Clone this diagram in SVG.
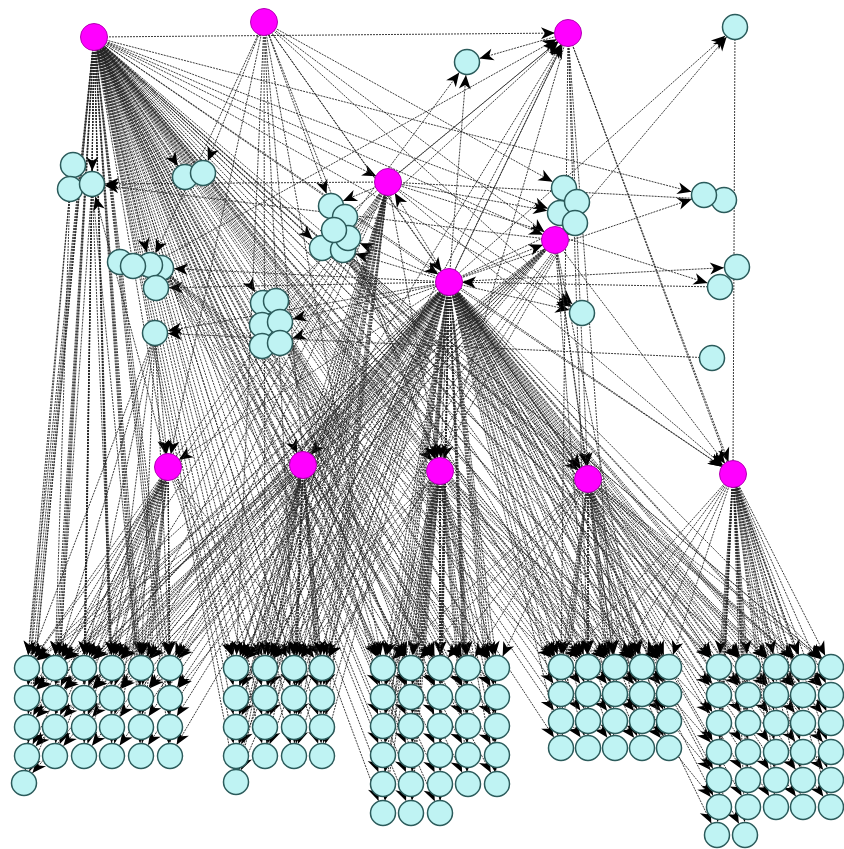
<svg xmlns="http://www.w3.org/2000/svg" width="844" height="849" viewBox="0 0 844 849">
<style>
.e path{fill:none;stroke:#262626;stroke-width:.9;stroke-dasharray:2 1;marker-end:url(#ah)}
.e path.n{marker-end:none}
.c{fill:#bff3f3;stroke:#2b5b5b;stroke-width:1.5}
.m{fill:#ff00ff;stroke:#b400b4;stroke-width:1}
</style>
<defs>
<marker id="ah" markerUnits="userSpaceOnUse" markerWidth="20" markerHeight="20" refX="13" refY="0" orient="auto" overflow="visible">
<path d="M0 0L-14 -6L-10 0L-14 6Z" fill="#000"/>
</marker>
</defs>
<rect width="844" height="849" fill="#fff"/>
<g id="edges" class="e">
<!-- M1 -->
<path d="M94 37L27 668"/><path d="M94 37L55 668"/><path d="M94 37L84 668"/><path d="M94 37L112 668"/><path d="M94 37L141 668"/><path d="M94 37L170 668"/>
<path d="M94 37L27 698"/><path d="M94 37L55 698"/><path d="M94 37L84 698"/><path d="M94 37L112 698"/><path d="M94 37L141 698"/><path d="M94 37L170 698"/>
<path d="M94 37L27 727"/><path d="M94 37L55 727"/><path d="M94 37L84 727"/><path d="M94 37L112 727"/><path d="M94 37L141 727"/><path d="M94 37L170 727"/>
<path d="M94 37L27 756"/><path d="M94 37L55 756"/><path d="M94 37L84 756"/><path d="M94 37L112 756"/><path d="M94 37L141 756"/><path d="M94 37L170 756"/>
<path d="M94 37L24 783"/>
<path d="M94 37L236 668"/><path d="M94 37L265 668"/><path d="M94 37L294 668"/><path d="M94 37L322 668"/>
<path d="M94 37L236 698"/><path d="M94 37L265 698"/><path d="M94 37L294 698"/><path d="M94 37L322 698"/>
<path d="M94 37L236 727"/><path d="M94 37L265 727"/><path d="M94 37L294 727"/><path d="M94 37L322 727"/>
<path d="M94 37L236 756"/><path d="M94 37L265 756"/><path d="M94 37L294 756"/><path d="M94 37L322 756"/><path d="M94 37L236 782"/>
<path d="M94 37L383 668"/><path d="M94 37L411 668"/><path d="M94 37L440 668"/><path d="M94 37L468 668"/><path d="M94 37L497 668"/>
<path d="M94 37L383 697"/><path d="M94 37L411 697"/><path d="M94 37L440 697"/><path d="M94 37L468 697"/><path d="M94 37L497 697"/>
<path d="M94 37L383 726"/><path d="M94 37L411 726"/><path d="M94 37L440 726"/><path d="M94 37L468 726"/><path d="M94 37L497 726"/>
<path d="M94 37L383 755"/><path d="M94 37L411 755"/><path d="M94 37L440 755"/><path d="M94 37L468 755"/><path d="M94 37L497 755"/>
<path d="M94 37L383 784"/><path d="M94 37L411 784"/><path d="M94 37L440 784"/><path d="M94 37L468 784"/><path d="M94 37L497 784"/>
<path d="M94 37L383 813"/><path d="M94 37L411 813"/><path d="M94 37L440 813"/>
<path d="M94 37L561 667"/><path d="M94 37L588 667"/><path d="M94 37L615 667"/><path d="M94 37L642 667"/><path d="M94 37L669 667"/>
<path d="M94 37L561 694"/><path d="M94 37L588 694"/><path d="M94 37L615 694"/><path d="M94 37L642 694"/><path d="M94 37L669 694"/>
<path d="M94 37L561 721"/><path d="M94 37L588 721"/><path d="M94 37L615 721"/><path d="M94 37L642 721"/><path d="M94 37L669 721"/>
<path d="M94 37L561 748"/><path d="M94 37L588 748"/><path d="M94 37L615 748"/><path d="M94 37L642 748"/><path d="M94 37L669 748"/>
<path d="M94 37L719 667"/><path d="M94 37L748 667"/><path d="M94 37L776 667"/><path d="M94 37L803 667"/><path d="M94 37L831 667"/>
<path d="M94 37L719 695"/><path d="M94 37L748 695"/><path d="M94 37L776 695"/><path d="M94 37L803 695"/><path d="M94 37L831 695"/>
<path d="M94 37L719 723"/><path d="M94 37L719 752"/><path d="M94 37L719 780"/><path d="M94 37L719 807"/>
<path d="M94 37L568 33"/><path d="M94 37L388 182"/><path d="M94 37L555 240"/><path d="M94 37L449 282"/><path d="M94 37L168 467"/><path d="M94 37L303 465"/><path d="M94 37L440 471"/><path d="M94 37L588 479"/><path d="M94 37L733 474"/>
<path d="M94 37L92 184"/><path d="M94 37L150 265"/><path d="M94 37L322 248"/><path d="M94 37L262 303"/><path d="M94 37L560 213"/><path d="M94 37L704 195"/><path d="M94 37L582 313"/><path d="M94 37L185 177"/>
<!-- M6 -->
<path d="M449 282L27 668"/><path d="M449 282L55 668"/><path d="M449 282L84 668"/><path d="M449 282L112 668"/><path d="M449 282L141 668"/><path d="M449 282L170 668"/>
<path d="M449 282L27 698"/><path d="M449 282L55 698"/><path d="M449 282L84 698"/><path d="M449 282L112 698"/><path d="M449 282L141 698"/><path d="M449 282L170 698"/>
<path d="M449 282L27 727"/><path d="M449 282L55 727"/><path d="M449 282L84 727"/><path d="M449 282L112 727"/><path d="M449 282L141 727"/><path d="M449 282L170 727"/>
<path d="M449 282L27 756"/><path d="M449 282L55 756"/><path d="M449 282L84 756"/><path d="M449 282L112 756"/><path d="M449 282L141 756"/><path d="M449 282L170 756"/>
<path d="M449 282L24 783"/>
<path d="M449 282L236 668"/><path d="M449 282L265 668"/><path d="M449 282L294 668"/><path d="M449 282L322 668"/>
<path d="M449 282L236 698"/><path d="M449 282L265 698"/><path d="M449 282L294 698"/><path d="M449 282L322 698"/>
<path d="M449 282L236 727"/><path d="M449 282L265 727"/><path d="M449 282L294 727"/><path d="M449 282L322 727"/>
<path d="M449 282L236 756"/><path d="M449 282L265 756"/><path d="M449 282L294 756"/><path d="M449 282L322 756"/><path d="M449 282L236 782"/>
<path d="M449 282L383 668"/><path d="M449 282L411 668"/><path d="M449 282L440 668"/><path d="M449 282L468 668"/><path d="M449 282L497 668"/>
<path d="M449 282L383 697"/><path d="M449 282L411 697"/><path d="M449 282L440 697"/><path d="M449 282L468 697"/><path d="M449 282L497 697"/>
<path d="M449 282L383 726"/><path d="M449 282L411 726"/><path d="M449 282L440 726"/><path d="M449 282L468 726"/><path d="M449 282L497 726"/>
<path d="M449 282L383 755"/><path d="M449 282L411 755"/><path d="M449 282L440 755"/><path d="M449 282L468 755"/><path d="M449 282L497 755"/>
<path d="M449 282L383 784"/><path d="M449 282L411 784"/><path d="M449 282L440 784"/><path d="M449 282L468 784"/><path d="M449 282L497 784"/>
<path d="M449 282L383 813"/><path d="M449 282L411 813"/><path d="M449 282L440 813"/>
<path d="M449 282L561 667"/><path d="M449 282L588 667"/><path d="M449 282L615 667"/><path d="M449 282L642 667"/><path d="M449 282L669 667"/>
<path d="M449 282L561 694"/><path d="M449 282L588 694"/><path d="M449 282L615 694"/><path d="M449 282L642 694"/><path d="M449 282L669 694"/>
<path d="M449 282L561 721"/><path d="M449 282L588 721"/><path d="M449 282L615 721"/><path d="M449 282L642 721"/><path d="M449 282L669 721"/>
<path d="M449 282L561 748"/><path d="M449 282L588 748"/><path d="M449 282L615 748"/><path d="M449 282L642 748"/><path d="M449 282L669 748"/>
<path d="M449 282L719 667"/><path d="M449 282L748 667"/><path d="M449 282L776 667"/><path d="M449 282L803 667"/><path d="M449 282L831 667"/>
<path d="M449 282L719 695"/><path d="M449 282L748 695"/><path d="M449 282L776 695"/><path d="M449 282L803 695"/><path d="M449 282L831 695"/>
<path d="M449 282L719 723"/><path d="M449 282L748 723"/><path d="M449 282L776 723"/><path d="M449 282L803 723"/><path d="M449 282L831 723"/>
<path d="M449 282L719 752"/><path d="M449 282L748 752"/><path d="M449 282L776 752"/><path d="M449 282L803 752"/><path d="M449 282L831 752"/>
<path d="M449 282L719 780"/><path d="M449 282L748 780"/><path d="M449 282L776 780"/><path d="M449 282L803 780"/><path d="M449 282L831 780"/>
<path d="M449 282L719 807"/><path d="M449 282L748 807"/><path d="M449 282L776 807"/><path d="M449 282L803 807"/><path d="M449 282L831 807"/>
<path d="M449 282L717 835"/><path d="M449 282L745 835"/>
<path d="M449 282L168 467"/><path d="M449 282L303 465"/><path d="M449 282L440 471"/><path d="M449 282L588 479"/><path d="M449 282L733 474"/><path d="M449 282L388 182"/><path d="M449 282L555 240"/><path d="M449 282L568 33"/>
<path d="M449 282L161 268"/><path d="M449 282L156 288"/><path d="M449 282L155 333"/><path d="M449 282L280 322"/><path d="M449 282L280 343"/><path d="M449 282L348 238"/><path d="M449 282L343 250"/><path d="M449 282L575 223"/>
<path d="M449 282L467 62"/><path d="M449 282L704 195"/><path d="M449 282L737 267"/><path d="M449 282L735 27"/><path d="M449 282L582 313"/>
<!-- M7 -->
<path d="M168 467L27 668"/><path d="M168 467L55 668"/><path d="M168 467L84 668"/><path d="M168 467L112 668"/><path d="M168 467L141 668"/><path d="M168 467L170 668"/>
<path d="M168 467L27 698"/><path d="M168 467L55 698"/><path d="M168 467L84 698"/><path d="M168 467L112 698"/><path d="M168 467L141 698"/><path d="M168 467L170 698"/>
<path d="M168 467L27 727"/><path d="M168 467L55 727"/><path d="M168 467L84 727"/><path d="M168 467L112 727"/><path d="M168 467L141 727"/><path d="M168 467L170 727"/>
<path d="M168 467L27 756"/><path d="M168 467L55 756"/><path d="M168 467L84 756"/><path d="M168 467L112 756"/><path d="M168 467L141 756"/><path d="M168 467L170 756"/><path d="M168 467L24 783"/>
<path d="M168 467L236 668"/><path d="M168 467L265 668"/><path d="M168 467L294 668"/><path d="M168 467L322 668"/>
<!-- M8 -->
<path d="M303 465L236 668"/><path d="M303 465L265 668"/><path d="M303 465L294 668"/><path d="M303 465L322 668"/>
<path d="M303 465L236 698"/><path d="M303 465L265 698"/><path d="M303 465L294 698"/><path d="M303 465L322 698"/>
<path d="M303 465L236 727"/><path d="M303 465L265 727"/><path d="M303 465L294 727"/><path d="M303 465L322 727"/>
<path d="M303 465L236 756"/><path d="M303 465L265 756"/><path d="M303 465L294 756"/><path d="M303 465L322 756"/><path d="M303 465L236 782"/>
<path d="M303 465L27 668"/><path d="M303 465L55 668"/><path d="M303 465L84 668"/><path d="M303 465L112 668"/><path d="M303 465L141 668"/><path d="M303 465L170 668"/>
<path d="M303 465L383 668"/><path d="M303 465L411 668"/><path d="M303 465L440 668"/><path d="M303 465L468 668"/><path d="M303 465L497 668"/>
<!-- M9 -->
<path d="M440 471L383 668"/><path d="M440 471L411 668"/><path d="M440 471L440 668"/><path d="M440 471L468 668"/><path d="M440 471L497 668"/>
<path d="M440 471L383 697"/><path d="M440 471L411 697"/><path d="M440 471L440 697"/><path d="M440 471L468 697"/><path d="M440 471L497 697"/>
<path d="M440 471L383 726"/><path d="M440 471L411 726"/><path d="M440 471L440 726"/><path d="M440 471L468 726"/><path d="M440 471L497 726"/>
<path d="M440 471L383 755"/><path d="M440 471L411 755"/><path d="M440 471L440 755"/><path d="M440 471L468 755"/><path d="M440 471L497 755"/>
<path d="M440 471L383 784"/><path d="M440 471L411 784"/><path d="M440 471L440 784"/><path d="M440 471L468 784"/><path d="M440 471L497 784"/>
<path d="M440 471L383 813"/><path d="M440 471L411 813"/><path d="M440 471L440 813"/>
<path d="M440 471L236 668"/><path d="M440 471L265 668"/><path d="M440 471L294 668"/><path d="M440 471L322 668"/>
<path d="M440 471L561 667"/><path d="M440 471L588 667"/><path d="M440 471L615 667"/><path d="M440 471L642 667"/><path d="M440 471L669 667"/>
<!-- M10 -->
<path d="M588 479L561 667"/><path d="M588 479L588 667"/><path d="M588 479L615 667"/><path d="M588 479L642 667"/><path d="M588 479L669 667"/>
<path d="M588 479L561 694"/><path d="M588 479L588 694"/><path d="M588 479L615 694"/><path d="M588 479L642 694"/><path d="M588 479L669 694"/>
<path d="M588 479L561 721"/><path d="M588 479L588 721"/><path d="M588 479L615 721"/><path d="M588 479L642 721"/><path d="M588 479L669 721"/>
<path d="M588 479L561 748"/><path d="M588 479L588 748"/><path d="M588 479L615 748"/><path d="M588 479L642 748"/><path d="M588 479L669 748"/>
<path d="M588 479L383 668"/><path d="M588 479L411 668"/><path d="M588 479L440 668"/><path d="M588 479L468 668"/><path d="M588 479L497 668"/>
<path d="M588 479L719 667"/><path d="M588 479L748 667"/><path d="M588 479L776 667"/><path d="M588 479L803 667"/><path d="M588 479L831 667"/>
<!-- M11 -->
<path d="M733 474L719 667"/><path d="M733 474L748 667"/><path d="M733 474L776 667"/><path d="M733 474L803 667"/><path d="M733 474L831 667"/>
<path d="M733 474L719 695"/><path d="M733 474L748 695"/><path d="M733 474L776 695"/><path d="M733 474L803 695"/><path d="M733 474L831 695"/>
<path d="M733 474L719 723"/><path d="M733 474L748 723"/><path d="M733 474L776 723"/><path d="M733 474L803 723"/><path d="M733 474L831 723"/>
<path d="M733 474L719 752"/><path d="M733 474L748 752"/><path d="M733 474L776 752"/><path d="M733 474L803 752"/><path d="M733 474L831 752"/>
<path d="M733 474L719 780"/><path d="M733 474L748 780"/><path d="M733 474L776 780"/><path d="M733 474L803 780"/><path d="M733 474L831 780"/>
<path d="M733 474L719 807"/><path d="M733 474L748 807"/><path d="M733 474L776 807"/><path d="M733 474L803 807"/><path d="M733 474L831 807"/>
<path d="M733 474L717 835"/><path d="M733 474L745 835"/>
<path d="M733 474L561 667"/><path d="M733 474L588 667"/><path d="M733 474L615 667"/><path d="M733 474L642 667"/><path d="M733 474L669 667"/>
<!-- M3 -->
<path d="M568 33L467 62"/><path d="M568 33L733 474"/><path d="M568 33L803 667"/><path d="M568 33L561 667"/><path d="M568 33L588 667"/><path d="M568 33L615 667"/><path d="M568 33L588 479"/><path d="M568 33L440 471"/>
<path d="M568 33L236 668"/><path d="M568 33L265 668"/>
<!-- into M3 -->
<path d="M168 467L467 62"/><path d="M150 265L568 33"/><path d="M345 217L568 33"/><path d="M276 301L568 33"/><path d="M303 465L568 33"/><path d="M388 182L568 33"/>
<!-- M2 -->
<path d="M264 22L203 173"/><path d="M264 22L150 265"/><path d="M264 22L168 467"/><path d="M264 22L331 206"/><path d="M264 22L449 282"/><path d="M264 22L564 188"/><path d="M264 22L582 313"/><path d="M264 22L440 471"/><path d="M264 22L588 479"/><path d="M264 22L555 240"/>
<path d="M264 22L236 668"/><path d="M264 22L265 668"/><path d="M264 22L294 668"/><path d="M264 22L322 668"/><path d="M264 22L383 668"/>
<!-- M4 -->
<path d="M388 182L331 206"/><path d="M388 182L560 213"/><path d="M388 182L724 200"/><path d="M388 182L720 287"/><path d="M388 182L582 313"/><path d="M388 182L92 184"/><path d="M388 182L733 474"/><path d="M388 182L440 471"/>
<path d="M388 182L27 668"/><path d="M388 182L55 668"/><path d="M388 182L84 668"/><path d="M388 182L112 668"/><path d="M388 182L141 668"/><path d="M388 182L170 668"/>
<path d="M388 182L236 668"/><path d="M388 182L265 668"/><path d="M388 182L294 668"/><path d="M388 182L322 668"/>
<path d="M388 182L236 698"/><path d="M388 182L265 698"/><path d="M388 182L294 698"/><path d="M388 182L322 698"/>
<path d="M388 182L236 727"/><path d="M388 182L265 727"/><path d="M388 182L294 727"/><path d="M388 182L322 727"/>
<path d="M388 182L236 756"/><path d="M388 182L265 756"/><path d="M388 182L294 756"/><path d="M388 182L322 756"/><path d="M388 182L236 782"/>
<!-- M5 -->
<path d="M555 240L735 27"/><path d="M555 240L92 184"/><path d="M555 240L588 479"/><path d="M555 240L733 474"/><path d="M555 240L588 667"/><path d="M555 240L615 667"/><path d="M555 240L642 667"/>
<path d="M555 240L27 668"/><path d="M555 240L55 668"/><path d="M555 240L84 668"/><path d="M555 240L112 668"/><path d="M555 240L141 668"/><path d="M555 240L170 668"/>
<path d="M555 240L27 698"/><path d="M555 240L55 698"/><path d="M555 240L84 698"/><path d="M555 240L112 698"/><path d="M555 240L141 698"/><path d="M555 240L170 698"/>
<!-- clusters to bottom -->
<path d="M575 223L236 668"/><path d="M575 223L265 668"/><path d="M575 223L294 668"/><path d="M575 223L322 668"/>
<path d="M343 250L561 667"/><path d="M343 250L588 667"/><path d="M343 250L615 667"/><path d="M343 250L642 667"/><path d="M343 250L669 667"/>
<path d="M343 250L719 667"/><path d="M343 250L748 667"/><path d="M343 250L776 667"/><path d="M343 250L803 667"/><path d="M343 250L831 667"/>
<path d="M161 268L383 668"/><path d="M161 268L411 668"/><path d="M161 268L440 668"/><path d="M161 268L468 668"/><path d="M161 268L497 668"/>
<path d="M161 268L561 667"/><path d="M161 268L588 667"/><path d="M161 268L615 667"/><path d="M161 268L642 667"/><path d="M161 268L669 667"/>
<path d="M280 322L383 668"/><path d="M280 322L411 668"/><path d="M280 322L440 668"/><path d="M280 322L468 668"/><path d="M280 322L497 668"/>
<path d="M280 322L383 697"/><path d="M280 322L411 697"/><path d="M280 322L440 697"/><path d="M280 322L468 697"/><path d="M280 322L497 697"/>
<path d="M70 189L27 668"/><path d="M70 189L27 698"/><path d="M70 189L55 668"/><path d="M92 184L84 668"/><path d="M92 184L112 668"/><path d="M92 184L141 698"/><path d="M92 184L55 727"/>
<path d="M155 333L27 668"/><path d="M155 333L55 668"/><path d="M155 333L84 668"/><path d="M155 333L112 668"/><path d="M155 333L141 668"/><path d="M155 333L170 668"/>
<path d="M345 217L440 471"/>
<!-- misc -->
<path d="M720 287L449 282"/><path d="M712 358L155 333"/><path d="M155 333L168 467"/><path d="M168 467L92 184"/>
<path class="n" d="M735 27L733 474"/>
</g>
<g id="nodes">
<g id="m1"><circle class="m" cx="94" cy="37" r="13.5"/></g>
<g id="m2"><circle class="m" cx="264" cy="22" r="13.5"/></g>
<g id="m3"><circle class="m" cx="568" cy="33" r="13.5"/></g>
<g id="m4"><circle class="m" cx="388" cy="182" r="13.5"/></g>
<g id="m5"><circle class="m" cx="555" cy="240" r="13.5"/></g>
<g id="m6"><circle class="m" cx="449" cy="282" r="13.5"/></g>
<g id="m7"><circle class="m" cx="168" cy="467" r="13.5"/></g>
<g id="m8"><circle class="m" cx="303" cy="465" r="13.5"/></g>
<g id="m9"><circle class="m" cx="440" cy="471" r="13.5"/></g>
<g id="m10"><circle class="m" cx="588" cy="479" r="13.5"/></g>
<g id="m11"><circle class="m" cx="733" cy="474" r="13.5"/></g>
<g id="c1"><circle class="c" cx="467" cy="62" r="12.5"/></g>
<g id="c2"><circle class="c" cx="735" cy="27" r="12.5"/></g>
<g id="l1"><circle class="c" cx="73" cy="165" r="12.5"/></g>
<g id="l2"><circle class="c" cx="70" cy="189" r="12.5"/></g>
<g id="l3"><circle class="c" cx="92" cy="184" r="12.5"/></g>
<g id="p1"><circle class="c" cx="185" cy="177" r="12.5"/></g>
<g id="p2"><circle class="c" cx="203" cy="173" r="12.5"/></g>
<g id="k5"><circle class="c" cx="322" cy="248" r="12.5"/></g>
<g id="k6"><circle class="c" cx="343" cy="250" r="12.5"/></g>
<g id="k1"><circle class="c" cx="331" cy="206" r="12.5"/></g>
<g id="k2"><circle class="c" cx="345" cy="217" r="12.5"/></g>
<g id="k4"><circle class="c" cx="348" cy="238" r="12.5"/></g>
<g id="k3"><circle class="c" cx="334" cy="230" r="12.5"/></g>
<g id="q1"><circle class="c" cx="120" cy="262" r="12.5"/></g>
<g id="q4"><circle class="c" cx="161" cy="268" r="12.5"/></g>
<g id="q3"><circle class="c" cx="150" cy="265" r="12.5"/></g>
<g id="q2"><circle class="c" cx="133" cy="266" r="12.5"/></g>
<g id="q5"><circle class="c" cx="156" cy="288" r="12.5"/></g>
<g id="s1"><circle class="c" cx="155" cy="333" r="12.5"/></g>
<g id="r1"><circle class="c" cx="263" cy="303" r="12.5"/></g>
<g id="r2"><circle class="c" cx="276" cy="301" r="12.5"/></g>
<g id="r3"><circle class="c" cx="262" cy="325" r="12.5"/></g>
<g id="r4"><circle class="c" cx="280" cy="322" r="12.5"/></g>
<g id="r5"><circle class="c" cx="262" cy="346" r="12.5"/></g>
<g id="r6"><circle class="c" cx="280" cy="343" r="12.5"/></g>
<g id="t1"><circle class="c" cx="564" cy="188" r="12.5"/></g>
<g id="t3"><circle class="c" cx="560" cy="213" r="12.5"/></g>
<g id="t2"><circle class="c" cx="577" cy="202" r="12.5"/></g>
<g id="t4"><circle class="c" cx="575" cy="223" r="12.5"/></g>
<g id="c3"><circle class="c" cx="582" cy="313" r="12.5"/></g>
<g id="u2"><circle class="c" cx="724" cy="200" r="12.5"/></g>
<g id="u1"><circle class="c" cx="704" cy="195" r="12.5"/></g>
<g id="v1"><circle class="c" cx="737" cy="267" r="12.5"/></g>
<g id="v2"><circle class="c" cx="720" cy="287" r="12.5"/></g>
<g id="c4"><circle class="c" cx="712" cy="358" r="12.5"/></g>
<g id="a1"><circle class="c" cx="27" cy="668" r="12.5"/></g><g id="a2"><circle class="c" cx="55" cy="668" r="12.5"/></g><g id="a3"><circle class="c" cx="84" cy="668" r="12.5"/></g><g id="a4"><circle class="c" cx="112" cy="668" r="12.5"/></g><g id="a5"><circle class="c" cx="141" cy="668" r="12.5"/></g><g id="a6"><circle class="c" cx="170" cy="668" r="12.5"/></g>
<g id="a7"><circle class="c" cx="27" cy="698" r="12.5"/></g><g id="a8"><circle class="c" cx="55" cy="698" r="12.5"/></g><g id="a9"><circle class="c" cx="84" cy="698" r="12.5"/></g><g id="a10"><circle class="c" cx="112" cy="698" r="12.5"/></g><g id="a11"><circle class="c" cx="141" cy="698" r="12.5"/></g><g id="a12"><circle class="c" cx="170" cy="698" r="12.5"/></g>
<g id="a13"><circle class="c" cx="27" cy="727" r="12.5"/></g><g id="a14"><circle class="c" cx="55" cy="727" r="12.5"/></g><g id="a15"><circle class="c" cx="84" cy="727" r="12.5"/></g><g id="a16"><circle class="c" cx="112" cy="727" r="12.5"/></g><g id="a17"><circle class="c" cx="141" cy="727" r="12.5"/></g><g id="a18"><circle class="c" cx="170" cy="727" r="12.5"/></g>
<g id="a19"><circle class="c" cx="27" cy="756" r="12.5"/></g><g id="a20"><circle class="c" cx="55" cy="756" r="12.5"/></g><g id="a21"><circle class="c" cx="84" cy="756" r="12.5"/></g><g id="a22"><circle class="c" cx="112" cy="756" r="12.5"/></g><g id="a23"><circle class="c" cx="141" cy="756" r="12.5"/></g><g id="a24"><circle class="c" cx="170" cy="756" r="12.5"/></g>
<g id="a25"><circle class="c" cx="24" cy="783" r="12.5"/></g>
<g id="b1"><circle class="c" cx="236" cy="668" r="12.5"/></g><g id="b2"><circle class="c" cx="265" cy="668" r="12.5"/></g><g id="b3"><circle class="c" cx="294" cy="668" r="12.5"/></g><g id="b4"><circle class="c" cx="322" cy="668" r="12.5"/></g>
<g id="b5"><circle class="c" cx="236" cy="698" r="12.5"/></g><g id="b6"><circle class="c" cx="265" cy="698" r="12.5"/></g><g id="b7"><circle class="c" cx="294" cy="698" r="12.5"/></g><g id="b8"><circle class="c" cx="322" cy="698" r="12.5"/></g>
<g id="b9"><circle class="c" cx="236" cy="727" r="12.5"/></g><g id="b10"><circle class="c" cx="265" cy="727" r="12.5"/></g><g id="b11"><circle class="c" cx="294" cy="727" r="12.5"/></g><g id="b12"><circle class="c" cx="322" cy="727" r="12.5"/></g>
<g id="b13"><circle class="c" cx="236" cy="756" r="12.5"/></g><g id="b14"><circle class="c" cx="265" cy="756" r="12.5"/></g><g id="b15"><circle class="c" cx="294" cy="756" r="12.5"/></g><g id="b16"><circle class="c" cx="322" cy="756" r="12.5"/></g>
<g id="b17"><circle class="c" cx="236" cy="782" r="12.5"/></g>
<g id="g1"><circle class="c" cx="383" cy="668" r="12.5"/></g><g id="g2"><circle class="c" cx="411" cy="668" r="12.5"/></g><g id="g3"><circle class="c" cx="440" cy="668" r="12.5"/></g><g id="g4"><circle class="c" cx="468" cy="668" r="12.5"/></g><g id="g5"><circle class="c" cx="497" cy="668" r="12.5"/></g>
<g id="g6"><circle class="c" cx="383" cy="697" r="12.5"/></g><g id="g7"><circle class="c" cx="411" cy="697" r="12.5"/></g><g id="g8"><circle class="c" cx="440" cy="697" r="12.5"/></g><g id="g9"><circle class="c" cx="468" cy="697" r="12.5"/></g><g id="g10"><circle class="c" cx="497" cy="697" r="12.5"/></g>
<g id="g11"><circle class="c" cx="383" cy="726" r="12.5"/></g><g id="g12"><circle class="c" cx="411" cy="726" r="12.5"/></g><g id="g13"><circle class="c" cx="440" cy="726" r="12.5"/></g><g id="g14"><circle class="c" cx="468" cy="726" r="12.5"/></g><g id="g15"><circle class="c" cx="497" cy="726" r="12.5"/></g>
<g id="g16"><circle class="c" cx="383" cy="755" r="12.5"/></g><g id="g17"><circle class="c" cx="411" cy="755" r="12.5"/></g><g id="g18"><circle class="c" cx="440" cy="755" r="12.5"/></g><g id="g19"><circle class="c" cx="468" cy="755" r="12.5"/></g><g id="g20"><circle class="c" cx="497" cy="755" r="12.5"/></g>
<g id="g21"><circle class="c" cx="383" cy="784" r="12.5"/></g><g id="g22"><circle class="c" cx="411" cy="784" r="12.5"/></g><g id="g23"><circle class="c" cx="440" cy="784" r="12.5"/></g><g id="g24"><circle class="c" cx="468" cy="784" r="12.5"/></g><g id="g25"><circle class="c" cx="497" cy="784" r="12.5"/></g>
<g id="g26"><circle class="c" cx="383" cy="813" r="12.5"/></g><g id="g27"><circle class="c" cx="411" cy="813" r="12.5"/></g><g id="g28"><circle class="c" cx="440" cy="813" r="12.5"/></g>
<g id="d1"><circle class="c" cx="561" cy="667" r="12.5"/></g><g id="d2"><circle class="c" cx="588" cy="667" r="12.5"/></g><g id="d3"><circle class="c" cx="615" cy="667" r="12.5"/></g><g id="d4"><circle class="c" cx="642" cy="667" r="12.5"/></g><g id="d5"><circle class="c" cx="669" cy="667" r="12.5"/></g>
<g id="d6"><circle class="c" cx="561" cy="694" r="12.5"/></g><g id="d7"><circle class="c" cx="588" cy="694" r="12.5"/></g><g id="d8"><circle class="c" cx="615" cy="694" r="12.5"/></g><g id="d9"><circle class="c" cx="642" cy="694" r="12.5"/></g><g id="d10"><circle class="c" cx="669" cy="694" r="12.5"/></g>
<g id="d11"><circle class="c" cx="561" cy="721" r="12.5"/></g><g id="d12"><circle class="c" cx="588" cy="721" r="12.5"/></g><g id="d13"><circle class="c" cx="615" cy="721" r="12.5"/></g><g id="d14"><circle class="c" cx="642" cy="721" r="12.5"/></g><g id="d15"><circle class="c" cx="669" cy="721" r="12.5"/></g>
<g id="d16"><circle class="c" cx="561" cy="748" r="12.5"/></g><g id="d17"><circle class="c" cx="588" cy="748" r="12.5"/></g><g id="d18"><circle class="c" cx="615" cy="748" r="12.5"/></g><g id="d19"><circle class="c" cx="642" cy="748" r="12.5"/></g><g id="d20"><circle class="c" cx="669" cy="748" r="12.5"/></g>
<g id="e1"><circle class="c" cx="719" cy="667" r="12.5"/></g><g id="e2"><circle class="c" cx="748" cy="667" r="12.5"/></g><g id="e3"><circle class="c" cx="776" cy="667" r="12.5"/></g><g id="e4"><circle class="c" cx="803" cy="667" r="12.5"/></g><g id="e5"><circle class="c" cx="831" cy="667" r="12.5"/></g>
<g id="e6"><circle class="c" cx="719" cy="695" r="12.5"/></g><g id="e7"><circle class="c" cx="748" cy="695" r="12.5"/></g><g id="e8"><circle class="c" cx="776" cy="695" r="12.5"/></g><g id="e9"><circle class="c" cx="803" cy="695" r="12.5"/></g><g id="e10"><circle class="c" cx="831" cy="695" r="12.5"/></g>
<g id="e11"><circle class="c" cx="719" cy="723" r="12.5"/></g><g id="e12"><circle class="c" cx="748" cy="723" r="12.5"/></g><g id="e13"><circle class="c" cx="776" cy="723" r="12.5"/></g><g id="e14"><circle class="c" cx="803" cy="723" r="12.5"/></g><g id="e15"><circle class="c" cx="831" cy="723" r="12.5"/></g>
<g id="e16"><circle class="c" cx="719" cy="752" r="12.5"/></g><g id="e17"><circle class="c" cx="748" cy="752" r="12.5"/></g><g id="e18"><circle class="c" cx="776" cy="752" r="12.5"/></g><g id="e19"><circle class="c" cx="803" cy="752" r="12.5"/></g><g id="e20"><circle class="c" cx="831" cy="752" r="12.5"/></g>
<g id="e21"><circle class="c" cx="719" cy="780" r="12.5"/></g><g id="e22"><circle class="c" cx="748" cy="780" r="12.5"/></g><g id="e23"><circle class="c" cx="776" cy="780" r="12.5"/></g><g id="e24"><circle class="c" cx="803" cy="780" r="12.5"/></g><g id="e25"><circle class="c" cx="831" cy="780" r="12.5"/></g>
<g id="e26"><circle class="c" cx="719" cy="807" r="12.5"/></g><g id="e27"><circle class="c" cx="748" cy="807" r="12.5"/></g><g id="e28"><circle class="c" cx="776" cy="807" r="12.5"/></g><g id="e29"><circle class="c" cx="803" cy="807" r="12.5"/></g><g id="e30"><circle class="c" cx="831" cy="807" r="12.5"/></g>
<g id="e31"><circle class="c" cx="717" cy="835" r="12.5"/></g><g id="e32"><circle class="c" cx="745" cy="835" r="12.5"/></g>
</g>
</svg>
